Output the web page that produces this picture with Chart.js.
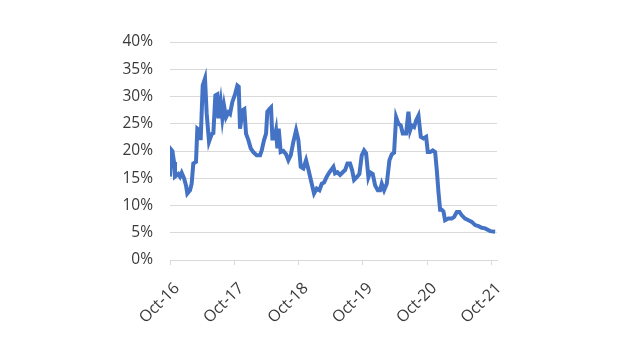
<!DOCTYPE html>
<html>
<head>
<meta charset="utf-8">
<script src="https://cdn.jsdelivr.net/npm/chart.js@4/dist/chart.umd.min.js"></script>
<style>
  html, body { margin: 0; padding: 0; background: #fff; }
  .wrap { width: 625px; height: 352px; position: relative; }
</style>
</head>
<body>
<div class="wrap"><canvas id="rateChart"></canvas></div>
<script>
// months since Oct-16
const months = [
  0, 0.2, 0.45, 0.75, 0.93, 1.55, 1.87, 2.18, 2.61, 2.99, 3.23, 3.73, 4.04, 4.35, 4.85,
  5.1, 5.47, 5.72, 6.1, 6.53, 6.84, 7.28, 7.78, 8.09, 8.46, 8.83, 9.02, 9.46, 9.77,
  10.08, 10.45, 10.89, 11.2, 11.63, 12.13, 12.57, 12.82, 13.06, 13.56, 13.87, 14.18,
  14.62, 15.06, 15.55, 16.17, 16.8, 17.11, 17.54, 17.92, 18.16, 18.54, 18.85, 19.1,
  19.47, 19.78, 20.03, 20.28, 20.65, 21.15, 21.65, 22.08, 22.52, 23.02, 23.52, 23.95,
  24.39, 24.88, 25.38, 25.82, 26.44, 26.87, 27.37, 27.87, 28.31, 28.74, 29.24, 29.74,
  30.48, 30.79, 31.23, 31.73, 32.22, 32.66, 33.1, 33.59, 33.97, 34.34, 34.84, 35.33,
  35.77, 36.21, 36.58, 37.01, 37.33, 37.82, 38.26, 38.76, 39.19, 39.5, 39.94, 40.44,
  40.93, 41.37, 41.8, 42.18, 42.61, 43.05, 43.42, 44.04, 44.48, 44.79, 45.1, 45.54,
  45.91, 46.35, 46.78, 47.28, 47.78, 48.09, 48.52, 49.02, 49.46, 49.77, 50.08, 50.39,
  50.7, 51.01, 51.32, 51.94, 52.57, 53.0, 53.5, 54.0, 54.43, 55.05, 55.68, 56.3,
  56.92, 57.54, 58.16, 58.79, 59.72, 60.65
];

const rates = [
  15.3, 20.3, 20.0, 18.0, 15.3, 15.8, 15.3, 16.0, 15.0, 13.7, 12.2, 12.8, 14.0, 17.7, 18.0,
  24.1, 23.8, 22.0, 32.0, 33.3, 26.9, 21.7, 23.1, 23.3, 30.2, 30.4, 26.0, 29.0, 26.0,
  28.3, 26.2, 27.1, 26.8, 29.0, 30.4, 32.0, 31.8, 24.1, 27.5, 27.7, 23.2,
  22.0, 20.5, 19.8, 19.2, 19.2, 20.1, 22.0, 23.2, 27.2, 27.7, 28.0, 22.3,
  22.3, 23.8, 20.5, 24.1, 19.8, 20.0, 19.4, 18.3, 19.2, 21.7, 23.8, 22.0,
  17.1, 16.8, 18.3, 16.6, 14.0, 12.2, 13.1, 12.8, 14.0, 14.2, 15.3, 16.1,
  17.1, 15.9, 16.1, 15.6, 16.1, 16.5, 17.7, 17.7, 16.5, 14.7, 15.2, 15.8,
  19.2, 20.1, 19.6, 15.2, 16.1, 15.8, 13.7, 12.8, 12.8, 14.0, 12.8, 14.0,
  18.3, 19.4, 19.7, 26.2, 25.0, 24.7, 23.2, 23.2, 27.2, 23.8, 24.7, 24.4,
  25.6, 26.5, 22.6, 22.3, 22.6, 19.8, 19.8, 20.1, 19.8, 16.5, 12.5, 9.2,
  9.2, 8.9, 7.3, 7.6, 7.6, 7.9, 8.8, 8.8, 8.2, 7.6, 7.3, 7.0,
  6.4, 6.2, 5.9, 5.8, 5.3, 5.2
];

const xTickMonths = [0, 12, 24, 36, 48, 60];
const xTickLabels = ["Oct-16", "Oct-17", "Oct-18", "Oct-19", "Oct-20", "Oct-21"];
const yTicks = [0, 5, 10, 15, 20, 25, 30, 35, 40];

const ctx = document.getElementById("rateChart").getContext("2d");

new Chart(ctx, {
  type: "line",
  data: {
    datasets: [
      {
        data: months.map((m, i) => ({ x: m, y: rates[i] })),
        borderColor: "#4472C4",
        borderWidth: 4,
        pointRadius: 0,
        tension: 0,
        fill: false,
      },
    ],
  },
  options: {
    responsive: true,
    maintainAspectRatio: false,
    animation: false,
    layout: { padding: { left: 100, right: 128, top: 42, bottom: 0 } },
    plugins: { legend: { display: false }, tooltip: { enabled: false } },
    scales: {
      x: {
        type: "linear",
        min: 0,
        max: 61,
        afterBuildTicks: (scale) => {
          scale.ticks = xTickMonths.map((v) => ({ value: v }));
        },
        afterFit: (scale) => {
          scale.height = 92;
        },
        ticks: {
          autoSkip: false,
          maxRotation: 45,
          minRotation: 45,
          padding: 14,
          labelOffset: 7,
          color: "#3a3a3a",
          font: { family: "Open Sans", size: 16 },
          callback: (v) => xTickLabels[xTickMonths.indexOf(v)],
        },
        grid: {
          drawOnChartArea: false,
          drawTicks: true,
          tickLength: 5,
          color: "#d9d9d9",
        },
        border: { color: "#d9d9d9", width: 1 },
      },
      y: {
        min: 0,
        max: 40,
        afterBuildTicks: (scale) => {
          scale.ticks = yTicks.map((v) => ({ value: v }));
        },
        afterFit: (scale) => {
          scale.width = 70;
        },
        ticks: {
          padding: 17,
          color: "#3a3a3a",
          font: { family: "Open Sans", size: 15.5 },
          callback: (v) => v + "%",
        },
        grid: { color: "#d9d9d9", lineWidth: 1, drawTicks: false },
        border: { display: false },
      },
    },
  },
});
</script>
</body>
</html>
